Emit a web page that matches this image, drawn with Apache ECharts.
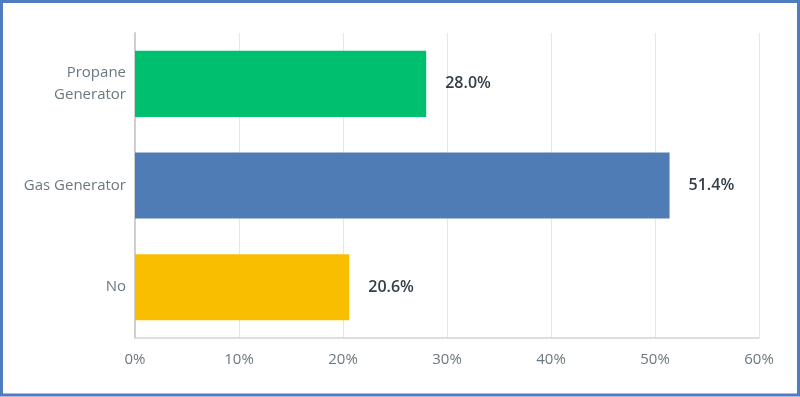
<!DOCTYPE html>
<html>
<head>
<meta charset="utf-8">
<script src="https://cdn.jsdelivr.net/npm/echarts@6/dist/echarts.min.js"></script>
<style>
  html, body { margin: 0; padding: 0; background: #fff; }
  #chart { width: 800px; height: 397px; }
</style>
</head>
<body>
<div id="chart"></div>
<script>
// data, top to bottom
var categories = ['Propane\nGenerator', 'Gas Generator', 'No'];
var values = [28.0, 51.4, 20.6];
var barColors = ['#00bf6f', '#507cb6', '#f9be00'];
var axisTicks = [0, 10, 20, 30, 40, 50, 60];

var chart = echarts.init(document.getElementById('chart'));

var option = {
    animation: false,
    textStyle: { fontFamily: '"Open Sans", sans-serif' },
    grid: {
        left: 135,
        right: 41,
        top: 33,
        bottom: 59,
        containLabel: false
    },
    xAxis: {
        type: 'value',
        min: axisTicks[0],
        max: axisTicks[axisTicks.length - 1],
        interval: 10,
        axisLine: { show: true, lineStyle: { color: '#d4d4d4', width: 1.5 } },
        axisTick: { show: false },
        splitLine: { lineStyle: { color: '#e6e6e6', width: 1 } },
        axisLabel: {
            color: '#6b787f',
            fontSize: 15,
            margin: 14,
            formatter: '{value}%'
        }
    },
    yAxis: {
        type: 'category',
        inverse: true,
        data: categories,
        axisLine: { show: true, lineStyle: { color: '#cfcfcf', width: 2 } },
        axisTick: { show: false },
        axisLabel: {
            color: '#6b787f',
            fontSize: 15,
            margin: 9,
            lineHeight: 22,
            align: 'right'
        }
    },
    series: [{
        type: 'bar',
        barWidth: '65%',
        data: values.map(function (v, i) {
            return { value: v, itemStyle: { color: barColors[i] } };
        }),
        label: {
            show: true,
            position: 'right',
            distance: 19,
            color: '#333e48',
            fontSize: 16,
            fontWeight: 600,
            formatter: function (p) { return p.value.toFixed(1) + '%'; }
        }
    }],
    graphic: [{
        type: 'rect',
        shape: { x: 1.5, y: 1.5, width: 797, height: 393.5 },
        style: { fill: 'none', stroke: '#4f7cc0', lineWidth: 3 },
        silent: true
    }]
};
chart.setOption(option);
</script>
</body>
</html>
